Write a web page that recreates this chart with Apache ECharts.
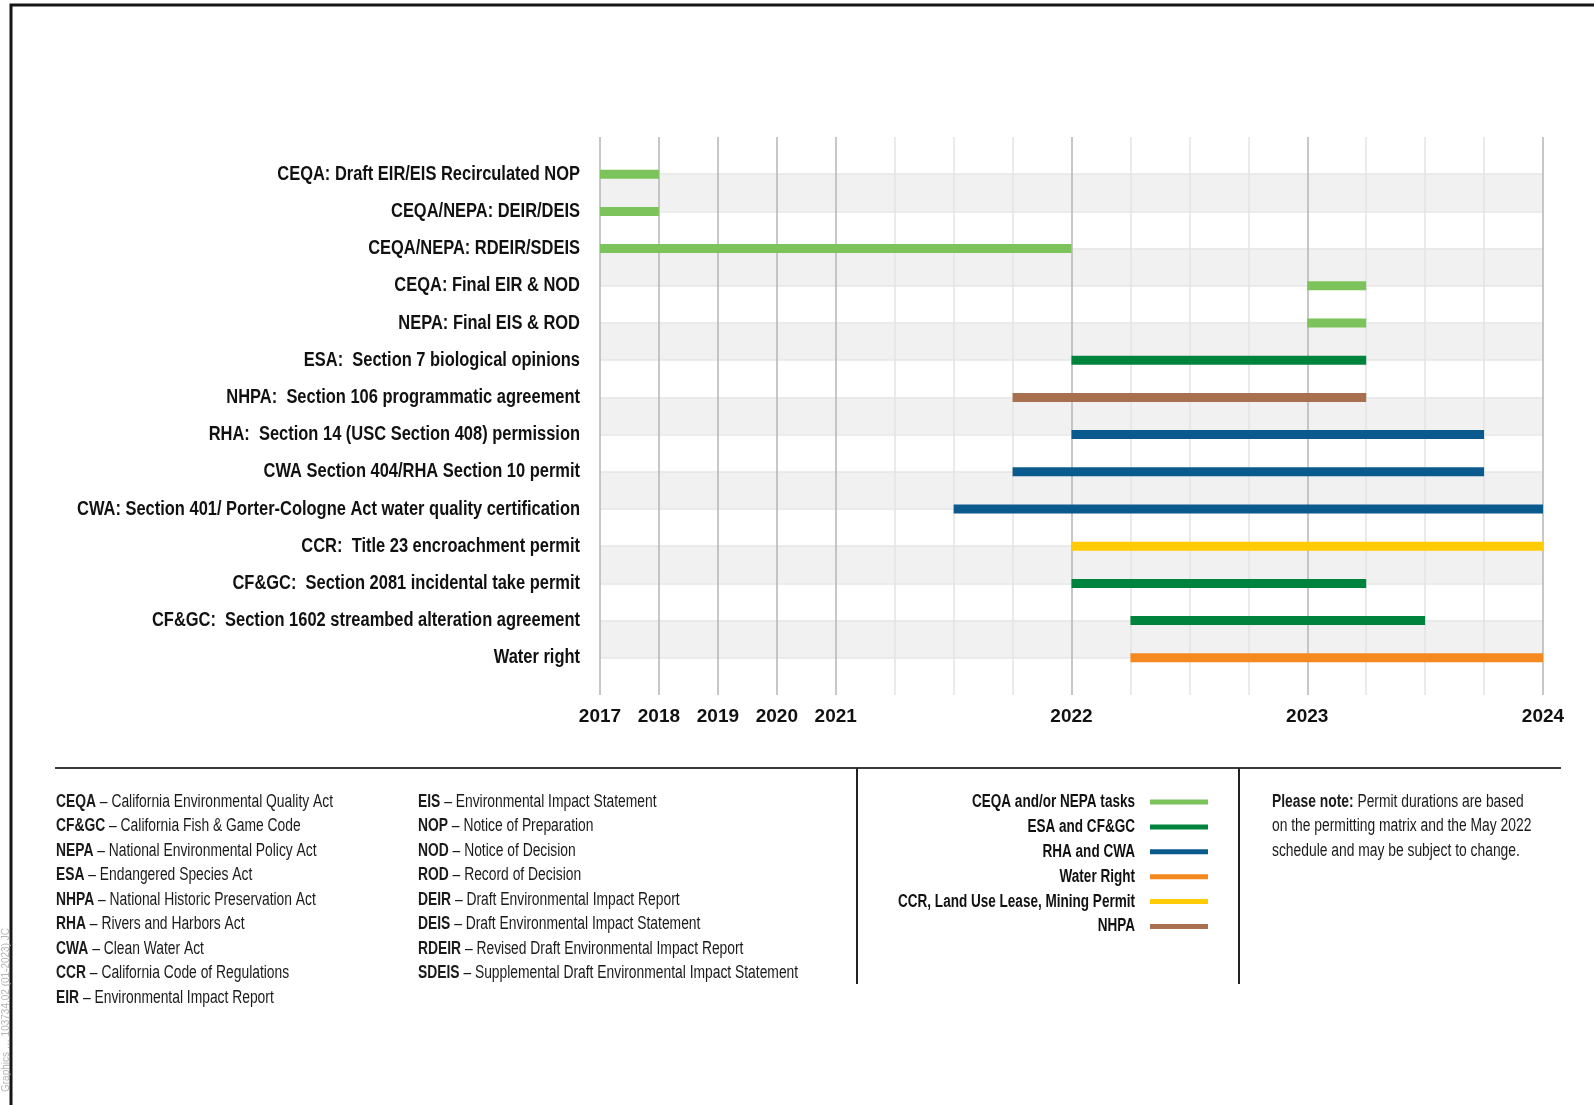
<!DOCTYPE html>
<html>
<head>
<meta charset="utf-8">
<script src="https://cdn.jsdelivr.net/npm/echarts@6/dist/echarts.min.js"></script>
<style>
html,body{margin:0;padding:0;background:#fff;}
#chart{width:1594px;height:1105px;}
</style>
</head>
<body>
<div id="chart"></div>
<script>
// ---- Data ----
const categories = [
  'CEQA: Draft EIR/EIS Recirculated NOP',
  'CEQA/NEPA: DEIR/DEIS',
  'CEQA/NEPA: RDEIR/SDEIS',
  'CEQA: Final EIR & NOD',
  'NEPA: Final EIS & ROD',
  'ESA:  Section 7 biological opinions',
  'NHPA:  Section 106 programmatic agreement',
  'RHA:  Section 14 (USC Section 408) permission',
  'CWA Section 404/RHA Section 10 permit',
  'CWA: Section 401/ Porter-Cologne Act water quality certification',
  'CCR:  Title 23 encroachment permit',
  'CF&GC:  Section 2081 incidental take permit',
  'CF&GC:  Section 1602 streambed alteration agreement',
  'Water right'
];
// positions on the timeline axis (0 = 2017 ... 4 = 2021, then quarters: 8 = 2022, 12 = 2023, 16 = 2024)
const startPos = [0, 0, 0, 12, 12, 8, 7, 8, 7, 6, 8, 8, 9, 9];
const endPos   = [1, 1, 8, 13, 13, 13, 13, 15, 15, 16, 16, 13, 14, 16];
const groupOf  = [0, 0, 0, 0, 0, 1, 5, 2, 2, 2, 4, 1, 1, 3];
const groupNames = ['CEQA and/or NEPA tasks', 'ESA and CF&GC', 'RHA and CWA', 'Water Right', 'CCR, Land Use Lease, Mining Permit', 'NHPA'];
const groupColors = ['#7dc35b', '#00843d', '#0b5a8e', '#f5891f', '#ffcb05', '#a8704e'];
const tickLabels = ['2017', '2018', '2019', '2020', '2021', '', '', '', '2022', '', '', '', '2023', '', '', '', '2024'];
const abbrevCol1 = [
  ['CEQA', 'California Environmental Quality Act'],
  ['CF&GC', 'California Fish & Game Code'],
  ['NEPA', 'National Environmental Policy Act'],
  ['ESA', 'Endangered Species Act'],
  ['NHPA', 'National Historic Preservation Act'],
  ['RHA', 'Rivers and Harbors Act'],
  ['CWA', 'Clean Water Act'],
  ['CCR', 'California Code of Regulations'],
  ['EIR', 'Environmental Impact Report']
];
const abbrevCol2 = [
  ['EIS', 'Environmental Impact Statement'],
  ['NOP', 'Notice of Preparation'],
  ['NOD', 'Notice of Decision'],
  ['ROD', 'Record of Decision'],
  ['DEIR', 'Draft Environmental Impact Report'],
  ['DEIS', 'Draft Environmental Impact Statement'],
  ['RDEIR', 'Revised Draft Environmental Impact Report'],
  ['SDEIS', 'Supplemental Draft Environmental Impact Statement']
];
const noteBold = 'Please note:';
const noteLines = [' Permit durations are based', 'on the permitting matrix and the May 2022', 'schedule and may be subject to change.'];
const sideNote = 'Graphics … 103734.02 (01-2023) JC';

// ---- Build ----
const FONT = '"Liberation Sans", Arial, "DejaVu Sans", sans-serif';
const mctx = document.createElement('canvas').getContext('2d');
function textW(parts) {
  return parts.reduce((s, p) => { mctx.font = (p[1] ? 'bold ' : '') + p[2] + 'px ' + FONT; return s + mctx.measureText(p[0]).width; }, 0);
}
// condensing factors so the plain sans matches the condensed face of the original
const yLabelScale = 503 / textW([[categories[9], true, 20]]);
const noteScale = 277 / textW([[abbrevCol1[0][0], true, 18], [' – ' + abbrevCol1[0][1], false, 18]]);
const keyScale = 237 / textW([[groupNames[4], true, 18]]);

const yCats = [''].concat(categories).concat(['']);
const xLineColors = tickLabels.map(t => t ? '#b4b4b4' : '#e3e3e3');
const yLineColors = yCats.map((c, i) => (i === 0 || i === yCats.length - 1) ? 'rgba(0,0,0,0)' : '#e6e6e6');

const series = groupNames.map((name, g) => ({
  name: name,
  type: 'custom',
  itemStyle: { color: groupColors[g] },
  encode: { x: [0, 1], y: 2 },
  data: categories.map((c, i) => groupOf[i] === g ? [startPos[i], endPos[i], i + 1] : null).filter(d => d),
  renderItem: function (params, api) {
    const s = api.coord([api.value(0), api.value(2)]);
    const e = api.coord([api.value(1), api.value(2)]);
    const h = 9;
    return {
      type: 'rect',
      shape: { x: s[0], y: s[1] - h / 2, width: e[0] - s[0], height: h },
      style: { fill: groupColors[g] }
    };
  }
}));

const chart = echarts.init(document.getElementById('chart'), null, { renderer: 'canvas' });
chart.setOption({
  backgroundColor: '#ffffff',
  animation: false,
  textStyle: { fontFamily: FONT },
  grid: { left: 600, right: 51, top: 137, bottom: 410, containLabel: false, outerBoundsMode: 'none' },
  xAxis: {
    type: 'value', min: 0, max: 16, interval: 1,
    axisLine: { show: false }, axisTick: { show: false },
    splitLine: { show: true, lineStyle: { color: xLineColors, width: 1.5 } },
    axisLabel: {
      formatter: v => tickLabels[Math.round(v)] || '',
      fontFamily: FONT, fontSize: 19, fontWeight: 'bold', color: '#111', margin: 12
    }
  },
  yAxis: {
    type: 'category', data: yCats, inverse: true, boundaryGap: false,
    axisLine: { show: false }, axisTick: { show: false },
    axisLabel: { show: false },
    splitLine: { show: true, lineStyle: { color: yLineColors, width: 1.5 } },
    splitArea: { show: true, areaStyle: { color: ['#ffffff', '#f1f1f1'] } }
  },
  series: series
});

const graphics = [];
// frame
graphics.push({ type: 'polyline', shape: { points: [[11, 1105], [11, 5], [1594, 5]] }, style: { stroke: '#161616', lineWidth: 3, fill: null } });
// task labels, placed through the category axis
categories.forEach((c, i) => {
  const y = chart.convertToPixel({ yAxisIndex: 0 }, i + 1);
  graphics.push({
    type: 'text', x: 580, y: y, scaleX: yLabelScale,
    style: { text: c, x: 0, y: 0, align: 'right', verticalAlign: 'middle', fontFamily: FONT, fontSize: 20, fontWeight: 'bold', fill: '#111' }
  });
});
// legend separator lines
graphics.push({ type: 'line', shape: { x1: 55, y1: 768, x2: 1561, y2: 768 }, style: { stroke: '#3a3a3a', lineWidth: 2 } });
graphics.push({ type: 'line', shape: { x1: 857, y1: 768, x2: 857, y2: 984 }, style: { stroke: '#222', lineWidth: 2 } });
graphics.push({ type: 'line', shape: { x1: 1239, y1: 768, x2: 1239, y2: 984 }, style: { stroke: '#222', lineWidth: 2 } });

const rowY = i => 802 + i * 24.5;
const richB = { b: { fontWeight: 'bold', fontFamily: FONT, fontSize: 18, fill: '#1a1a1a' } };
function abbrevText(list, x) {
  list.forEach((a, i) => {
    graphics.push({
      type: 'text', x: x, y: rowY(i), scaleX: noteScale,
      style: {
        text: '{b|' + a[0] + '} – ' + a[1], x: 0, y: 0,
        fontFamily: FONT, fontSize: 18, fill: '#1a1a1a', verticalAlign: 'middle', align: 'left', rich: richB
      }
    });
  });
}
abbrevText(abbrevCol1, 56);
abbrevText(abbrevCol2, 418);
noteLines.forEach((t, i) => {
  graphics.push({
    type: 'text', x: 1272, y: rowY(i), scaleX: noteScale,
    style: {
      text: (i === 0 ? '{b|' + noteBold + '}' : '') + t, x: 0, y: 0,
      fontFamily: FONT, fontSize: 18, fill: '#1a1a1a', verticalAlign: 'middle', align: 'left', rich: richB
    }
  });
});
// colour key
groupNames.forEach((n, g) => {
  const y = 802 + g * 24.9;
  graphics.push({
    type: 'text', x: 1135, y: y, scaleX: keyScale,
    style: { text: n, x: 0, y: 0, align: 'right', verticalAlign: 'middle', fontFamily: FONT, fontSize: 18, fontWeight: 'bold', fill: '#111' }
  });
  graphics.push({ type: 'rect', shape: { x: 1150, y: y - 2.5, width: 58, height: 5 }, style: { fill: groupColors[g] } });
});
graphics.push({
  type: 'text', x: 6, y: 1010, rotation: Math.PI / 2,
  style: { text: sideNote, x: 0, y: 0, fontFamily: FONT, fontSize: 10, fill: '#b5b5b5', align: 'center', verticalAlign: 'middle' }
});

chart.setOption({ graphic: graphics });
</script>
</body>
</html>
